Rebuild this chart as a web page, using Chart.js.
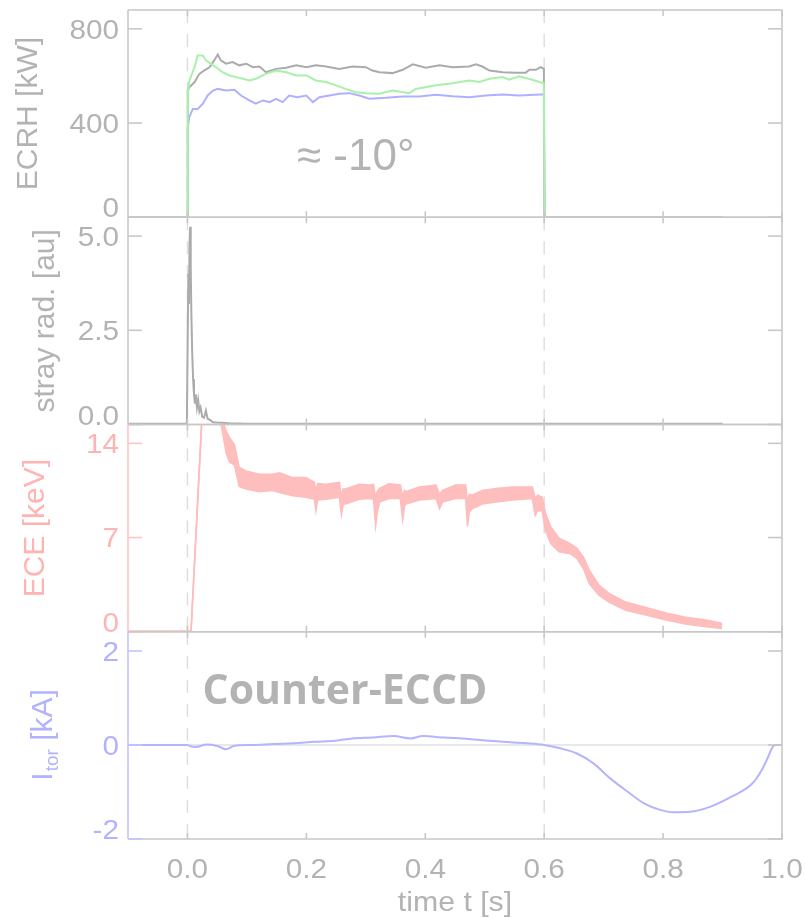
<!DOCTYPE html>
<html>
<head>
<meta charset="utf-8">
<script src="https://cdn.jsdelivr.net/npm/chart.js@4/dist/chart.umd.min.js"></script>
<style>
  html, body { margin: 0; padding: 0; background: #ffffff; }
  #wrap { position: relative; width: 805px; height: 918px; }
  #wrap canvas { position: absolute; left: 0; top: 0; }
</style>
</head>
<body>
<div id="wrap">
  <canvas id="pEcrh" width="805" height="918"></canvas>
  <canvas id="pStray" width="805" height="918"></canvas>
  <canvas id="pEce" width="805" height="918"></canvas>
  <canvas id="pItor" width="805" height="918"></canvas>
</div>
<script>
// ---- shared time axis ----
const timeRange = [-0.1, 1.0];
const timeTicks = [0, 0.2, 0.4, 0.6, 0.8, 1.0];
const timeTickLabels = ['0.0', '0.2', '0.4', '0.6', '0.8', '1.0'];
const markerTimes = [0.0, 0.6];

// ---- ECRH power per gyrotron [kW] ----
const ecrhGreenT = [-0.1, 0.0, 0.0006, 0.0034, 0.012, 0.017, 0.026, 0.031, 0.039, 0.048, 0.059, 0.071, 0.082, 0.093, 0.104, 0.115, 0.132, 0.149, 0.166, 0.183, 0.2, 0.216, 0.233, 0.25, 0.266, 0.283, 0.3, 0.323, 0.345, 0.373, 0.384, 0.418, 0.446, 0.474, 0.491, 0.508, 0.53, 0.541, 0.558, 0.58, 0.592, 0.5995, 0.6005, 0.9];
const ecrhGreen  = [0, 0, 530, 581, 637, 687, 687, 666, 652, 637, 616, 602, 595, 588, 581, 588, 609, 623, 616, 602, 602, 581, 574, 560, 545, 531, 527, 524, 538, 527, 545, 560, 569, 581, 574, 588, 595, 584, 598, 584, 574, 569, 0, 0];

const ecrhGrayT = [-0.1, 0.0, 0.0006, 0.003, 0.012, 0.02, 0.028, 0.037, 0.045, 0.051, 0.056, 0.065, 0.076, 0.087, 0.099, 0.11, 0.121, 0.132, 0.149, 0.166, 0.183, 0.2, 0.216, 0.233, 0.255, 0.278, 0.3, 0.311, 0.323, 0.345, 0.362, 0.379, 0.401, 0.424, 0.446, 0.474, 0.485, 0.496, 0.508, 0.53, 0.552, 0.569, 0.575, 0.586, 0.594, 0.5995, 0.6005, 0.9];
const ecrhGray  = [0, 0, 538, 552, 574, 609, 623, 637, 666, 691, 666, 652, 659, 645, 652, 637, 640, 616, 630, 635, 645, 637, 645, 640, 630, 640, 637, 623, 616, 612, 626, 649, 635, 645, 637, 640, 649, 640, 623, 616, 614, 614, 626, 626, 637, 630, 0, 0];

const ecrhBlueT = [-0.1, 0.0, 0.0006, 0.003, 0.009, 0.017, 0.026, 0.034, 0.043, 0.051, 0.065, 0.079, 0.09, 0.104, 0.115, 0.127, 0.138, 0.149, 0.16, 0.171, 0.185, 0.2, 0.211, 0.222, 0.239, 0.255, 0.272, 0.289, 0.306, 0.334, 0.362, 0.39, 0.418, 0.446, 0.474, 0.502, 0.53, 0.558, 0.594, 0.5995, 0.6005, 0.9];
const ecrhBlue  = [0, 0, 382, 425, 460, 460, 482, 517, 538, 545, 538, 541, 517, 496, 482, 496, 489, 503, 489, 517, 510, 517, 489, 510, 517, 524, 527, 517, 503, 507, 513, 513, 520, 514, 510, 517, 521, 517, 521, 521, 0, 0];

const ecrhTicks = [0, 400, 800];
const ecrhTickLabels = ['0', '400', '800'];

// ---- stray radiation [au] ----
const strayT = [-0.1, -0.001, 0.0005, 0.0015, 0.0025, 0.0035, 0.0045, 0.0055, 0.0065, 0.008, 0.0095, 0.011, 0.0125, 0.014, 0.016, 0.018, 0.02, 0.022, 0.025, 0.028, 0.031, 0.034, 0.038, 0.043, 0.05, 0.07, 0.1, 0.9];
const stray  = [0.02, 0.02, 2.5, 4.0, 3.2, 4.8, 5.25, 4.2, 3.0, 1.9, 1.2, 0.8, 0.55, 0.8, 0.45, 0.65, 0.35, 0.45, 0.2, 0.18, 0.37, 0.15, 0.12, 0.06, 0.05, 0.03, 0.02, 0.02];
const strayTicks = [0, 2.5, 5.0];
const strayTickLabels = ['0.0', '2.5', '5.0'];

// ---- ECE electron temperature [keV], upper / lower edge of the noisy trace ----
const eceT = [-0.1, 0.006, 0.024, 0.03, 0.055, 0.06, 0.065, 0.071, 0.079, 0.087, 0.098, 0.121, 0.143, 0.155, 0.177, 0.199, 0.2134, 0.216, 0.219, 0.233, 0.2555, 0.259, 0.262, 0.266, 0.289, 0.306, 0.313, 0.3165, 0.319, 0.323, 0.339, 0.358, 0.362, 0.365, 0.367, 0.39, 0.418, 0.424, 0.429, 0.451, 0.468, 0.471, 0.474, 0.479, 0.496, 0.519, 0.547, 0.58, 0.585, 0.589, 0.5966, 0.602, 0.611, 0.625, 0.6437, 0.655, 0.666, 0.6756, 0.6924, 0.709, 0.737, 0.771, 0.805, 0.838, 0.872, 0.899];
const eceHigh = [0.05, 0.05, 15.6, 17.5, 16.8, 15.6, 14.9, 14.4, 13.9, 12.2, 11.95, 11.7, 11.7, 11.8, 11.45, 11.45, 11.1, 10.4, 11.0, 10.95, 11.1, 10.0, 10.6, 10.6, 10.95, 10.9, 10.95, 9.9, 10.4, 10.65, 11.0, 10.9, 10.0, 10.5, 10.4, 10.75, 10.9, 10.2, 10.5, 10.9, 10.9, 9.6, 10.2, 10.15, 10.5, 10.65, 10.75, 10.75, 9.9, 10.15, 10.0, 8.8, 7.8, 6.95, 6.55, 6.2, 5.55, 4.6, 3.45, 2.85, 2.2, 1.8, 1.4, 1.07, 0.87, 0.63];
const eceLow  = [0, 0, 15.6, 17.5, 15.8, 14.6, 13.3, 12.6, 12.4, 10.8, 10.6, 10.4, 10.5, 10.35, 10.1, 10.0, 9.85, 9.0, 9.8, 9.85, 10.0, 8.7, 9.5, 9.5, 9.85, 9.9, 9.85, 7.9, 8.8, 9.65, 9.9, 9.9, 8.35, 9.3, 9.5, 9.8, 9.9, 9.15, 9.65, 9.9, 9.9, 7.85, 8.9, 9.15, 9.5, 9.65, 9.8, 9.9, 8.66, 9.0, 9.0, 7.55, 6.55, 5.95, 5.8, 5.45, 4.7, 3.6, 2.7, 2.2, 1.6, 1.25, 0.87, 0.57, 0.37, 0.25];
const eceTicks = [0, 7, 14];
const eceTickLabels = ['0', '7', '14'];

// ---- toroidal plasma current [kA] ----
const itorT = [-0.1, 0.0, 0.0035, 0.0147, 0.032, 0.05, 0.065, 0.078, 0.109, 0.144, 0.179, 0.214, 0.249, 0.277, 0.312, 0.347, 0.375, 0.396, 0.431, 0.473, 0.508, 0.543, 0.571, 0.6, 0.627, 0.655, 0.683, 0.711, 0.74, 0.768, 0.795, 0.816, 0.845, 0.88, 0.915, 0.95, 0.966, 0.975, 0.985, 0.99, 1.0];
const itor  = [0, 0, -0.02, -0.04, 0.01, -0.02, -0.09, -0.02, 0, 0.02, 0.035, 0.07, 0.09, 0.14, 0.16, 0.19, 0.14, 0.19, 0.16, 0.13, 0.09, 0.057, 0.035, 0, -0.07, -0.18, -0.39, -0.71, -0.99, -1.24, -1.38, -1.43, -1.42, -1.31, -1.1, -0.82, -0.53, -0.3, -0.03, 0, 0];
const itorTicks = [-2, 0, 2];
const itorTickLabels = ['-2', '0', '2'];

// ---- styling ----
const FONT = '"Liberation Sans", Arial, sans-serif';
const GRAY_TEXT = '#b3b3b3';
const PINK_TEXT = '#ffb4b4';
const BLUE_TEXT = '#b2b2ff';
const FRAME = '#c8c8c8';
const GUIDE = '#dcdcdc';
const PLOT_LEFT = 128, PLOT_RIGHT = 782;

const pts = (ts, vs) => ts.map((t, i) => ({ x: t, y: vs[i] }));

function text(ctx, str, x, y, font, color, align, baseline, sx) {
  ctx.save();
  ctx.translate(x, y);
  ctx.scale(sx || 1, 1);
  ctx.font = font;
  ctx.fillStyle = color;
  ctx.textAlign = align;
  ctx.textBaseline = baseline;
  ctx.fillText(str, 0, 0);
  ctx.restore();
}

// frame, ticks, labels and titles of one panel
function framePlugin(cfg) {
  return {
    id: 'frame_' + cfg.id,
    beforeDatasetsDraw(chart) {
      const { ctx, chartArea: a, scales: { x, y } } = chart;
      ctx.save();
      ctx.strokeStyle = GUIDE;
      ctx.lineWidth = 1.4;
      ctx.setLineDash([13, 11]);
      for (const t of markerTimes) {
        const px = x.getPixelForValue(t);
        ctx.beginPath(); ctx.moveTo(px, a.top); ctx.lineTo(px, a.bottom); ctx.stroke();
      }
      ctx.setLineDash([]);
      if (cfg.zeroLine) {
        const py = y.getPixelForValue(0);
        ctx.strokeStyle = '#e0e0e0';
        ctx.lineWidth = 1.6;
        ctx.beginPath(); ctx.moveTo(a.left, py); ctx.lineTo(a.right, py); ctx.stroke();
      }
      ctx.restore();
    },
    afterDatasetsDraw(chart) {
      const { ctx, chartArea: a, scales: { x, y } } = chart;
      ctx.save();
      ctx.lineWidth = 1.6;
      // box
      ctx.strokeStyle = FRAME;
      ctx.beginPath();
      ctx.moveTo(a.left, a.top); ctx.lineTo(a.right, a.top); ctx.lineTo(a.right, a.bottom); ctx.lineTo(a.left, a.bottom);
      ctx.stroke();
      ctx.strokeStyle = cfg.axisColor;
      ctx.beginPath(); ctx.moveTo(a.left, a.top); ctx.lineTo(a.left, a.bottom); ctx.stroke();
      // time ticks, inward at top and bottom
      ctx.strokeStyle = FRAME;
      for (const t of timeTicks) {
        const px = x.getPixelForValue(t);
        ctx.beginPath(); ctx.moveTo(px, a.top); ctx.lineTo(px, a.top + 6); ctx.stroke();
        ctx.beginPath(); ctx.moveTo(px, a.bottom); ctx.lineTo(px, a.bottom - 6); ctx.stroke();
      }
      // value ticks, inward on both sides
      cfg.ticks.forEach((v, i) => {
        const py = y.getPixelForValue(v);
        ctx.strokeStyle = cfg.axisColor;
        ctx.beginPath(); ctx.moveTo(a.left, py); ctx.lineTo(a.left + 14, py); ctx.stroke();
        ctx.strokeStyle = FRAME;
        ctx.beginPath(); ctx.moveTo(a.right, py); ctx.lineTo(a.right - 14, py); ctx.stroke();
        const base = (v === cfg.ticks[0]) ? a.bottom : py + 9.7;
        text(ctx, cfg.tickLabels[i], a.left - 9, base, '27px ' + FONT, cfg.textColor, 'right', 'alphabetic', 1.1);
      });
      // value axis title
      const cy = (a.top + a.bottom) / 2;
      ctx.save();
      ctx.translate(cfg.titleX, cy);
      ctx.rotate(-Math.PI / 2);
      ctx.fillStyle = cfg.textColor;
      ctx.textBaseline = 'alphabetic';
      if (cfg.titleParts) {
        const big = '30px ' + FONT, small = '19px ' + FONT;
        ctx.font = big;
        const w1 = ctx.measureText(cfg.titleParts[0]).width;
        const w3 = ctx.measureText(cfg.titleParts[2]).width;
        ctx.font = small;
        const w2 = ctx.measureText(cfg.titleParts[1]).width;
        let x0 = -(w1 + w2 + w3) / 2;
        ctx.textAlign = 'left';
        ctx.font = big; ctx.fillText(cfg.titleParts[0], x0, 0);
        ctx.font = small; ctx.fillText(cfg.titleParts[1], x0 + w1 + 1, 6);
        ctx.font = big; ctx.fillText(cfg.titleParts[2], x0 + w1 + w2 + 1, 0);
      } else {
        ctx.font = '30px ' + FONT;
        ctx.textAlign = 'center';
        ctx.fillText(cfg.title, 0, 0);
      }
      ctx.restore();
      // time axis labels below the last panel
      if (cfg.timeLabels) {
        timeTicks.forEach((t, i) => {
          text(ctx, timeTickLabels[i], x.getPixelForValue(t), 878, '27px ' + FONT, GRAY_TEXT, 'center', 'alphabetic', 1.1);
        });
        text(ctx, 'time t [s]', (a.left + a.right) / 2, 911, '28px ' + FONT, GRAY_TEXT, 'center', 'alphabetic', 1.08);
      }
      if (cfg.note) {
        text(ctx, cfg.note.text, cfg.note.x, cfg.note.y, cfg.note.font, GRAY_TEXT, cfg.note.align, 'alphabetic', 1);
      }
      ctx.restore();
    }
  };
}

function makePanel(canvasId, cfg, datasets) {
  return new Chart(document.getElementById(canvasId), {
    type: 'line',
    data: { datasets },
    options: {
      responsive: false,
      animation: false,
      devicePixelRatio: 1,
      events: [],
      layout: { padding: { left: PLOT_LEFT, right: 805 - PLOT_RIGHT, top: cfg.top, bottom: 918 - cfg.bottom } },
      elements: { point: { radius: 0 }, line: { borderWidth: 2, tension: 0 } },
      plugins: { legend: { display: false }, tooltip: { enabled: false } },
      scales: {
        x: { type: 'linear', min: timeRange[0], max: timeRange[1], display: false },
        y: { type: 'linear', min: cfg.yMin, max: cfg.yMax, display: false }
      }
    },
    plugins: [framePlugin(cfg)]
  });
}

const panelH = (839 - 10) / 4;

makePanel('pEcrh', {
  id: 'ecrh', top: 10, bottom: 10 + panelH, yMin: 0, yMax: 880,
  ticks: ecrhTicks, tickLabels: ecrhTickLabels, textColor: GRAY_TEXT, axisColor: FRAME,
  title: 'ECRH [kW]', titleX: 37,
  note: { text: '≈ -10°', x: 297, y: 170, font: '44px ' + FONT, align: 'left' }
}, [
  { data: pts(ecrhGreenT, ecrhGreen), borderColor: '#a9f0a9', borderWidth: 2 },
  { data: pts(ecrhGrayT, ecrhGray), borderColor: '#ababab', borderWidth: 2 },
  { data: pts(ecrhBlueT, ecrhBlue), borderColor: '#b0b0ff', borderWidth: 2 }
]);

makePanel('pStray', {
  id: 'stray', top: 10 + panelH, bottom: 10 + 2 * panelH, yMin: 0, yMax: 5.5,
  ticks: strayTicks, tickLabels: strayTickLabels, textColor: GRAY_TEXT, axisColor: FRAME,
  title: 'stray rad. [au]', titleX: 54
}, [
  { data: pts(strayT, stray), borderColor: '#ababab', borderWidth: 2 }
]);

makePanel('pEce', {
  id: 'ece', top: 10 + 2 * panelH, bottom: 10 + 3 * panelH, yMin: 0, yMax: 15.4,
  ticks: eceTicks, tickLabels: eceTickLabels, textColor: PINK_TEXT, axisColor: '#ffc4c4',
  title: 'ECE [keV]', titleX: 44
}, [
  { data: pts(eceT, eceHigh), borderColor: '#ffbcbc', borderWidth: 1.6, fill: '+1', backgroundColor: '#ffbebe' },
  { data: pts(eceT, eceLow), borderColor: '#ffbcbc', borderWidth: 1.6 }
]);

makePanel('pItor', {
  id: 'itor', top: 10 + 3 * panelH, bottom: 839, yMin: -2, yMax: 2.41,
  ticks: itorTicks, tickLabels: itorTickLabels, textColor: BLUE_TEXT, axisColor: '#c4c4ff',
  titleParts: ['I', 'tor', ' [kA]'], titleX: 52, zeroLine: true, timeLabels: true,
  note: { text: 'Counter-ECCD', x: 345, y: 704, font: 'bold 41px "Open Sans", sans-serif', align: 'center' }
}, [
  { data: pts(itorT, itor), borderColor: '#b4b4ff', borderWidth: 2, cubicInterpolationMode: 'monotone' }
]);
</script>
</body>
</html>
